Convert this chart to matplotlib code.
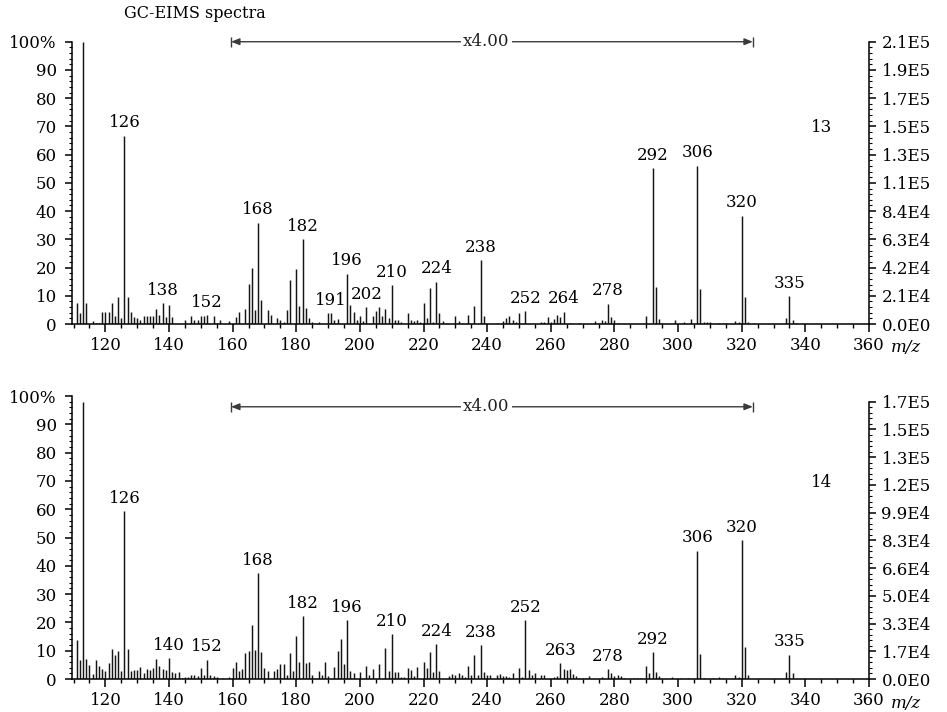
import matplotlib
matplotlib.use("Agg")
import matplotlib.pyplot as plt
import numpy as np
from matplotlib.ticker import MultipleLocator, FixedLocator

# ---- spectrum 13 (relative abundance %, region 160-323 shown x4) ----
top_mz = [111, 112, 113, 114, 116, 117, 118, 119, 120, 121, 122, 123, 124, 125,
          126, 127, 128, 129, 130, 131, 132, 133, 134, 135, 136, 137, 138, 139,
          140, 141, 145, 147, 148, 149, 150, 151, 152, 154, 155, 156, 159, 161,
          162, 164, 165, 166, 167, 168, 169, 171, 172, 174, 175, 176, 177, 178,
          180, 181, 182, 183, 184, 185, 187, 190, 191, 192, 193, 196, 197, 198,
          199, 200, 201, 202, 204, 205, 206, 207, 208, 209, 210, 211, 212, 213,
          215, 216, 217, 218, 219, 220, 221, 222, 223, 224, 225, 226, 227, 230,
          231, 232, 234, 236, 238, 239, 243, 245, 246, 247, 248, 249, 250, 252,
          257, 258, 259, 260, 261, 262, 263, 264, 266, 269, 274, 275, 276, 277,
          278, 279, 280, 281, 290, 292, 293, 294, 295, 299, 302, 304, 306, 307,
          308, 309, 310, 313, 314, 315, 318, 319, 320, 321, 322, 324, 334, 335,
          336, 337]
top_int = [7.3, 3.8, 100.0, 7.3, 1.0, 0.5, 0.5, 4.2, 4.3, 4.3, 7.3, 2.8, 9.4, 2.3,
           66.7, 9.5, 4.2, 2.6, 2.0, 1.5, 2.7, 2.7, 2.7, 3.0, 5.3, 3.2, 7.5, 2.4,
           6.7, 2.5, 1.5, 2.7, 1.3, 1.3, 2.8, 2.8, 3.2, 2.8, 0.5, 1.6, 1.2, 2.5,
           4.3, 5.4, 14.3, 20.0, 4.8, 35.9, 8.5, 5.0, 3.2, 2.2, 1.5, 0.8, 5.1, 15.6,
           19.6, 6.4, 30.1, 5.8, 2.3, 0.8, 0.8, 3.9, 3.9, 1.6, 1.9, 17.8, 6.6, 4.1,
           1.5, 2.9, 1.0, 6.0, 3.0, 4.6, 6.0, 2.8, 5.3, 2.2, 13.7, 1.5, 1.5, 0.8,
           3.8, 1.6, 1.2, 1.6, 0.6, 7.4, 2.3, 12.8, 0.7, 15.0, 3.8, 1.2, 0.5, 2.8,
           1.2, 0.5, 3.3, 6.4, 22.7, 2.7, 0.5, 1.2, 2.3, 2.7, 1.5, 0.7, 3.8, 4.5,
           0.6, 0.8, 2.5, 0.8, 1.8, 3.1, 2.4, 4.4, 0.5, 0.5, 1.1, 0.5, 1.5, 1.0,
           7.2, 2.6, 1.5, 0.5, 3.0, 55.2, 13.0, 1.8, 0.5, 1.5, 0.6, 1.7, 56.1, 12.3,
           0.6, 0.6, 0.8, 0.5, 0.5, 0.5, 1.0, 0.6, 38.4, 9.4, 0.6, 0.4, 2.3, 9.9,
           1.5, 0.4]
top_labels = [126, 138, 152, 168, 182, 191, 196, 202, 210, 224, 238, 252, 264,
              278, 292, 306, 320, 335]
top_right_ticks = ["0.0E0", "2.1E4", "4.2E4", "6.3E4", "8.4E4", "1.1E5", "1.3E5",
                   "1.5E5", "1.7E5", "1.9E5", "2.1E5"]

# ---- spectrum 14 ----
bot_mz = [111, 112, 113, 114, 115, 116, 117, 118, 119, 120, 121, 122, 123, 124,
          125, 126, 127, 128, 129, 130, 131, 132, 133, 134, 135, 136, 137, 138,
          139, 140, 141, 142, 143, 144, 145, 146, 147, 148, 149, 150, 151, 152,
          153, 154, 155, 157, 159, 160, 161, 162, 163, 164, 165, 166, 167, 168,
          169, 170, 171, 173, 174, 175, 176, 177, 178, 179, 180, 181, 182, 183,
          184, 185, 187, 188, 189, 190, 192, 193, 194, 195, 196, 197, 198, 200,
          202, 203, 204, 206, 208, 209, 210, 211, 212, 213, 214, 215, 216, 217,
          218, 220, 221, 222, 223, 224, 225, 228, 229, 230, 231, 232, 233, 234,
          235, 236, 237, 238, 239, 240, 241, 243, 244, 245, 246, 247, 248, 250,
          251, 252, 253, 254, 255, 257, 258, 261, 262, 263, 264, 265, 266, 267,
          268, 269, 270, 271, 272, 276, 278, 279, 280, 281, 282, 283, 286, 287,
          288, 290, 291, 292, 293, 294, 298, 301, 303, 306, 307, 308, 311, 313,
          314, 318, 319, 320, 321, 322, 334, 335, 336]
bot_int = [13.7, 6.8, 98.0, 7.0, 5.0, 1.7, 6.7, 4.6, 3.6, 2.8, 5.7, 10.6, 8.4, 9.8,
           2.8, 59.4, 10.6, 2.9, 3.2, 3.2, 4.2, 2.0, 3.6, 3.1, 4.0, 7.0, 4.5, 3.4,
           3.2, 7.4, 2.4, 2.0, 2.6, 0.4, 0.6, 0.8, 1.6, 1.3, 0.9, 4.0, 1.3, 6.8,
           1.3, 1.1, 0.6, 0.3, 0.7, 3.9, 6.1, 3.0, 3.7, 9.2, 10.0, 19.0, 10.2, 37.3,
           9.6, 4.0, 3.0, 3.0, 3.7, 5.3, 5.3, 1.3, 9.2, 2.8, 15.3, 5.9, 22.3, 5.7,
           6.0, 1.4, 3.0, 1.4, 6.0, 1.2, 4.1, 9.8, 14.0, 5.3, 20.8, 3.0, 2.3, 2.6,
           4.6, 1.6, 3.6, 5.3, 11.0, 2.8, 15.8, 2.6, 2.4, 0.6, 0.8, 3.8, 3.2, 1.2,
           4.4, 6.0, 4.0, 9.6, 2.6, 12.3, 2.7, 1.0, 1.8, 1.3, 2.1, 1.6, 0.7, 4.7,
           1.3, 8.4, 1.6, 12.0, 2.5, 1.3, 1.6, 1.4, 1.8, 1.0, 1.2, 0.6, 2.0, 3.9,
           0.7, 20.8, 3.2, 1.3, 2.0, 1.3, 1.3, 0.6, 1.0, 5.6, 3.7, 3.1, 3.6, 1.8,
           1.1, 0.5, 0.5, 0.4, 0.9, 0.6, 3.5, 2.0, 1.2, 1.6, 1.0, 0.4, 0.5, 0.3,
           0.3, 4.6, 2.2, 9.5, 2.6, 1.1, 0.7, 0.4, 0.4, 45.3, 8.8, 0.4, 0.3, 0.6,
           0.4, 1.5, 0.6, 49.0, 11.4, 1.5, 2.5, 8.6, 2.0]
bot_labels = [126, 140, 152, 168, 182, 196, 210, 224, 238, 252, 263, 278, 292,
              306, 320, 335]
bot_right_ticks = ["0.0E0", "1.7E4", "3.3E4", "5.0E4", "6.6E4", "8.3E4", "9.9E4",
                   "1.2E5", "1.3E5", "1.5E5", "1.7E5"]

left_ticks = ["0", "10", "20", "30", "40", "50", "60", "70", "80", "90", "100%"]
x_ticks = [120, 140, 160, 180, 200, 220, 240, 260, 280, 300, 320, 340, 360]
zoom_range = (159.5, 323.5)
zoom_text = "x4.00"

plt.rcParams['font.family'] = ['DejaVu Serif']
plt.rcParams['font.size'] = 12

fig = plt.figure(figsize=(9.47, 7.12), dpi=100)
ax_top = fig.add_axes([0.0760, 0.5449, 0.8416, 0.3965])
ax_bot = fig.add_axes([0.0760, 0.0463, 0.8416, 0.3975])

LINE = '#151515'


def draw_panel(ax, mz, inten, labels, right_ticks, tag, arrow_y):
    mz = np.asarray(mz)
    inten = np.asarray(inten)
    ax.vlines(mz, 0, inten, colors=LINE, linewidth=1.05)
    ax.set_xlim(109.5, 360)
    ax.set_ylim(0, 100)

    ax.spines['top'].set_visible(False)
    ax.spines['right'].set_visible(False)
    for s in ('left', 'bottom'):
        ax.spines[s].set_linewidth(1.1)

    ax.xaxis.set_major_locator(FixedLocator(x_ticks))
    ax.set_xticklabels([str(t) for t in x_ticks])
    ax.xaxis.set_minor_locator(MultipleLocator(5))
    ax.set_yticks(np.arange(0, 101, 10))
    ax.set_yticklabels(left_ticks)
    ax.yaxis.set_minor_locator(MultipleLocator(2))
    ax.tick_params(axis='x', which='major', direction='out', length=5.5, width=1.1, pad=4)
    ax.tick_params(axis='x', which='minor', direction='out', length=3, width=1.0)
    ax.tick_params(axis='y', which='major', direction='out', length=5, width=1.1, pad=6)
    ax.tick_params(axis='y', which='minor', direction='out', length=2.5, width=0.8)

    # intensity scale on the right, tied to the base peak
    base = inten.max()
    ax2 = ax.twinx()
    ax2.set_ylim(0, 100)
    for s in ('top', 'left', 'bottom'):
        ax2.spines[s].set_visible(False)
    ax2.spines['right'].set_linewidth(1.1)
    ax2.spines['right'].set_bounds(0, base)
    ax2.set_yticks(base * np.arange(11) / 10)
    ax2.set_yticklabels(right_ticks)
    ax2.yaxis.set_minor_locator(FixedLocator(base * np.arange(51) / 50))
    ax2.tick_params(axis='y', which='major', direction='out', length=5, width=1.1, pad=4)
    ax2.tick_params(axis='y', which='minor', direction='out', length=2.5, width=0.8)

    # peak labels
    for m in labels:
        h = inten[mz == m][0]
        ax.annotate(str(m), xy=(m, h), xytext=(0, 6), textcoords='offset points',
                    ha='center', va='baseline')

    # magnified region marker
    x0, x1 = zoom_range
    ax.annotate('', xy=(x0, arrow_y), xytext=(x1, arrow_y),
                arrowprops=dict(arrowstyle='<|-|>,head_length=0.5,head_width=0.2',
                                color='#3a3a3a', lw=1.0, shrinkA=0, shrinkB=0,
                                mutation_scale=10),
                annotation_clip=False)
    ax.plot([x0, x1], [arrow_y, arrow_y], ls='none', marker='|', ms=7, mew=1.0,
            color='#3a3a3a', clip_on=False)
    ax.text((x0 + x1) / 2 - 1.7, arrow_y, zoom_text, ha='center', va='center',
            color='#222222',
            bbox=dict(facecolor='white', edgecolor='none', pad=1.5))

    ax.text(345.2, 69.5, tag, ha='center', va='center')


draw_panel(ax_top, top_mz, top_int, top_labels, top_right_ticks, "13", 100.0)
draw_panel(ax_bot, bot_mz, bot_int, bot_labels, bot_right_ticks, "14", 96.2)

fig.text(195 / 947, 1 - 14 / 712, "GC-EIMS spectra", ha='center', va='center',
         fontsize=11.5)
fig.text(906 / 947, 1 - 347 / 712, "m/z", style='italic', ha='center', va='center')
fig.text(906 / 947, 1 - 703 / 712, "m/z", style='italic', ha='center', va='center')

fig.savefig("out.png", dpi=100)
